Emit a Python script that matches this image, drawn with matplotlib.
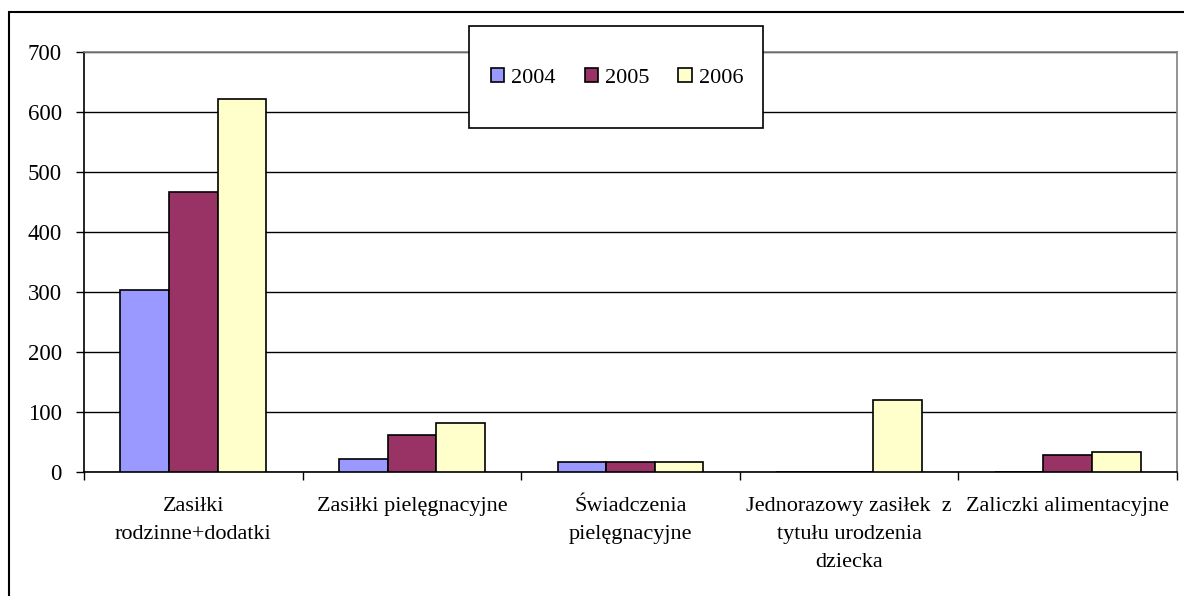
import numpy as np
import matplotlib.pyplot as plt
from matplotlib.patches import Rectangle

categories = ['Zasiłki\nrodzinne+dodatki', 'Zasiłki pielęgnacyjne',
              'Świadczenia\npielęgnacyjne',
              'Jednorazowy zasiłek  z\ntytułu urodzenia\ndziecka',
              'Zaliczki alimentacyjne']
years = ['2004', '2005', '2006']
v2004 = [303, 22, 16, 0, 0]
v2005 = [466, 62, 16, 0, 29]
v2006 = [622, 81, 16, 120, 33]
colors = ['#9999FF', '#993366', '#FFFFCC']

plt.rcParams['font.family'] = ['Liberation Serif', 'DejaVu Serif']
plt.rcParams['font.size'] = 16.5

fig = plt.figure(figsize=(11.84, 5.96), dpi=100)
ax = fig.add_axes([84/1184, 1-472/596, (1177-84)/1184, (472-52)/596])

x = np.arange(len(categories))
w = 1/4.5
for k, (vals, c, lab) in enumerate(zip([v2004, v2005, v2006], colors, years)):
    ax.bar(x + (k-1)*w, vals, w, color=c, edgecolor='black', linewidth=1.2,
           label=lab, zorder=3)

ax.set_xlim(-0.5, len(categories)-0.5)
ax.set_ylim(0, 700)
ax.set_yticks(range(0, 701, 100))
ax.yaxis.grid(True, color='black', linewidth=1)
ax.set_axisbelow(True)

ax.set_xticks(np.arange(-0.5, len(categories)))
ax.set_xticklabels([])
ax.set_xticks(x, minor=True)
ax.set_xticklabels(categories, minor=True, linespacing=1.65, va='top', fontsize=16)
ax.tick_params(axis='x', which='minor', length=0, pad=18)
ax.tick_params(axis='x', which='major', length=6, width=1, direction='out')
ax.tick_params(axis='y', length=6, width=1, direction='out', pad=10)

for s in ['left', 'bottom']:
    ax.spines[s].set_color('black')
    ax.spines[s].set_linewidth(1.2)
for s in ['top', 'right']:
    ax.spines[s].set_color('#808080')
    ax.spines[s].set_linewidth(1.2)

# outer chart border
fig.patches.append(Rectangle((9/1184, -0.1), 1.2, 1.1 - 12/596, transform=fig.transFigure,
                             fill=False, edgecolor='black', linewidth=1.5))

# legend box
box = Rectangle((469/1184, 1-128/596), (763-469)/1184, 102/596, transform=fig.transFigure,
                facecolor='white', edgecolor='black', linewidth=1.2, zorder=4.5, clip_on=False)
ax.add_artist(box)
leg = ax.legend(loc='center', bbox_to_anchor=(617/1184, 1-78/596), bbox_transform=fig.transFigure,
                ncol=3, frameon=False, handlelength=0.62, handleheight=0.62, handletextpad=0.3,
                columnspacing=1.3, fontsize=16)
leg.set_zorder(6)

fig.savefig('out.png', dpi=100)
